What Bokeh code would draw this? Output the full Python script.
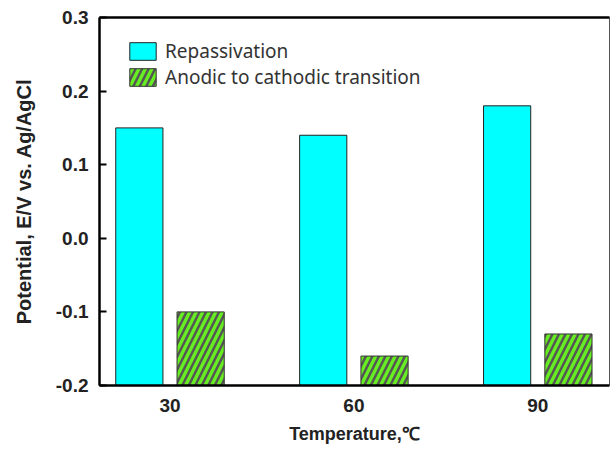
from bokeh.plotting import figure
from bokeh.models import ColumnDataSource, FixedTicker, Range1d, LinearAxis, Legend, LegendItem
from bokeh.embed import file_html
from bokeh.resources import INLINE

temps = [30, 60, 90]
tick_labels = ["30", "60", "90"]
repassivation = [0.15, 0.14, 0.18]
transition = [-0.10, -0.16, -0.13]

Y0, Y1 = -0.2, 0.3
OFF, W = 5.0, 7.7

src = ColumnDataSource(dict(
    x1=[t - OFF for t in temps], x2=[t + OFF for t in temps],
    rep=repassivation, tr=transition, base=[Y0] * len(temps)))

p = figure(width=611, height=450, output_backend="svg", toolbar_location=None,
           x_range=Range1d(18.5, 101.7), y_range=Range1d(Y0, Y1),
           min_border_left=99, min_border_right=2, min_border_top=17, min_border_bottom=65)
p.xgrid.visible = False
p.ygrid.visible = False
p.outline_line_color = "#555555"
p.outline_line_width = 1

r1 = p.vbar(x="x1", top="rep", bottom="base", width=W, source=src,
            fill_color="#00FFFF", line_color="#222222", line_width=1)
r2 = p.vbar(x="x2", top="tr", bottom="base", width=W, source=src,
            fill_color="#66EE22", line_color="#333333", line_width=1,
            hatch_pattern="/", hatch_color="#555555", hatch_weight=2.5, hatch_scale=13)

font = "Liberation Sans"
xa = p.xaxis[0]
xa.ticker = FixedTicker(ticks=temps)
xa.major_label_overrides = {t: l for t, l in zip(temps, tick_labels)}
xa.major_tick_in = 0
xa.major_tick_out = 0
xa.minor_tick_line_color = None
xa.axis_line_width = 2.5
xa.axis_line_color = "black"
xa.major_label_text_font = font
xa.major_label_text_font_style = "bold"
xa.major_label_text_font_size = "19px"
xa.major_label_text_color = "#222222"
xa.major_label_standoff = 13
xa.axis_label = "Temperature,\u2103"
xa.axis_label_text_font = font
xa.axis_label_text_font_style = "bold"
xa.axis_label_text_font_size = "18px"
xa.axis_label_text_color = "#222222"
xa.axis_label_standoff = 9

ya = p.yaxis[0]
ya.ticker = FixedTicker(ticks=[-0.2, -0.1, 0.0, 0.1, 0.2, 0.3])
ya.major_label_overrides = {-0.2: "-0.2", -0.1: "-0.1", 0.0: "0.0", 0.1: "0.1", 0.2: "0.2", 0.3: "0.3"}
ya.major_tick_in = 7
ya.major_tick_out = 0
ya.major_tick_line_width = 2
ya.minor_tick_line_color = None
ya.axis_line_width = 2.5
ya.axis_line_color = "black"
ya.major_label_text_font = font
ya.major_label_text_font_style = "bold"
ya.major_label_text_font_size = "19px"
ya.major_label_text_color = "#222222"
ya.major_label_standoff = 11
ya.axis_label = "Potential, E/V vs. Ag/AgCl"
ya.axis_label_text_font = font
ya.axis_label_text_font_style = "bold"
ya.axis_label_text_font_size = "20px"
ya.axis_label_text_color = "#222222"
ya.axis_label_standoff = 18

top = LinearAxis(major_tick_in=0, major_tick_out=0, minor_tick_line_color=None,
                 major_label_text_font_size="0px", axis_line_width=2.5, axis_line_color="black",
                 ticker=FixedTicker(ticks=[]))
p.add_layout(top, "above")

legend = Legend(items=[LegendItem(label="Repassivation", renderers=[r1]),
                       LegendItem(label="Anodic to cathodic transition", renderers=[r2])],
                location=(27, 295), padding=0, spacing=0, glyph_width=33, glyph_height=22,
                label_height=22, label_standoff=6, border_line_color=None,
                background_fill_alpha=0, label_text_font="Noto Sans",
                label_text_font_size="19px", label_text_color="#333333")
p.add_layout(legend, "center")

open("out.html", "w").write(file_html(p, INLINE))
